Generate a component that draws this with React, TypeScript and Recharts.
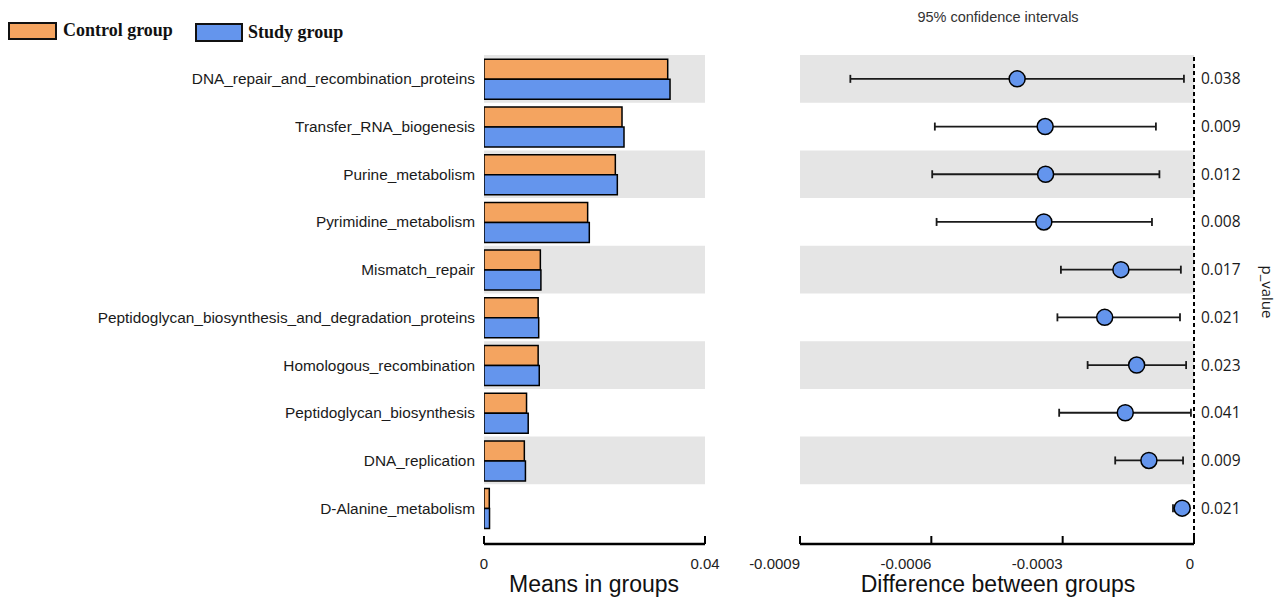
import React from 'react';
import {
  BarChart,
  Bar,
  XAxis,
  YAxis,
  ReferenceArea,
  ComposedChart,
  Scatter,
  ErrorBar,
  ReferenceLine,
} from 'recharts';

const categories = [
  'DNA_repair_and_recombination_proteins',
  'Transfer_RNA_biogenesis',
  'Purine_metabolism',
  'Pyrimidine_metabolism',
  'Mismatch_repair',
  'Peptidoglycan_biosynthesis_and_degradation_proteins',
  'Homologous_recombination',
  'Peptidoglycan_biosynthesis',
  'DNA_replication',
  'D-Alanine_metabolism',
];

const controlMeans = [0.03325, 0.02498, 0.02377, 0.01876, 0.0102, 0.0098, 0.0098, 0.0077, 0.0073, 0.00096];
const studyMeans = [0.03367, 0.02534, 0.02413, 0.01906, 0.0103, 0.0099, 0.01, 0.008, 0.0075, 0.001];

const diffMean = [-0.000404, -0.00034, -0.000339, -0.000343, -0.000167, -0.000204, -0.000131, -0.000157, -0.000103, -0.000027];
const ciLower = [-0.000785, -0.000592, -0.000598, -0.000588, -0.000304, -0.000312, -0.000243, -0.000308, -0.00018, -0.000048];
const ciUpper = [-0.000023, -0.000087, -0.000079, -0.000096, -0.00003, -0.000032, -0.000018, -0.000007, -0.000025, -0.000015];

const pValues = ['0.038', '0.009', '0.012', '0.008', '0.017', '0.021', '0.023', '0.041', '0.009', '0.021'];

const meanTicks = [0, 0.04];
const diffTicks = [-0.0009, -0.0006, -0.0003, 0];

const barData = categories.map((name, i) => ({
  name,
  control: controlMeans[i],
  study: studyMeans[i],
}));

const diffData = categories.map((name, i) => ({
  name,
  mean: diffMean[i],
  err: [diffMean[i] - ciLower[i], ciUpper[i] - diffMean[i]],
}));

const pMap: Record<string, string> = {};
categories.forEach((c, i) => {
  pMap[c] = pValues[i];
});

const shaded = categories.filter((_, i) => i % 2 === 0);

const SANS = '"Liberation Sans", Arial, sans-serif';
const OPEN = '"Open Sans", "Liberation Sans", sans-serif';
const SERIF = '"Liberation Serif", "Times New Roman", serif';

const makeXTick = (anchor: 'middle' | 'end') => (props: any) => {
  const { x, y, payload } = props;
  return (
    <g>
      <line x1={x} y1={y} x2={x} y2={y - 8} stroke="#000" strokeWidth={2} />
      <text x={x} y={y + 25} textAnchor={anchor} fontSize={15} fontFamily={SANS} fill="#222">
        {String(payload.value)}
      </text>
    </g>
  );
};

const DotShape = (props: any) => {
  const { cx, cy } = props;
  if (cx == null || cy == null) return null;
  return <circle cx={cx} cy={cy} r={8} fill="#6495ED" stroke="#000" strokeWidth={1.5} />;
};

export default function App() {
  return (
    <div
      style={{
        position: 'absolute',
        left: 0,
        top: 0,
        width: 1286,
        height: 599,
        background: '#fff',
        overflow: 'hidden',
      }}
    >
      <div style={{ position: 'absolute', left: 0, top: 0 }}>
        <BarChart
          width={720}
          height={599}
          data={barData}
          layout="vertical"
          margin={{ top: 55, right: 15, bottom: 0, left: 0 }}
          barCategoryGap="9%"
          barGap={0}
        >
          {shaded.map((n) => (
            <ReferenceArea key={n} y1={n} y2={n} fill="#e5e5e5" fillOpacity={1} stroke="none" />
          ))}
          <XAxis
            type="number"
            domain={[0, 0.04]}
            ticks={meanTicks}
            interval={0}
            allowDataOverflow
            height={55}
            tickLine={false}
            tickSize={0}
            tickMargin={0}
            axisLine={{ stroke: '#000', strokeWidth: 2.5 }}
            tick={makeXTick('middle')}
          />
          <YAxis
            type="category"
            dataKey="name"
            width={484}
            interval={0}
            axisLine={false}
            tickLine={false}
            tickSize={0}
            tickMargin={9}
            padding={{ top: 0, bottom: 12 }}
            tick={{ fontSize: 15.4, fill: '#1a1a1a', fontFamily: SANS }}
          />
          <Bar dataKey="control" fill="#F4A460" stroke="#000" strokeWidth={1.5} isAnimationActive={false} />
          <Bar dataKey="study" fill="#6495ED" stroke="#000" strokeWidth={1.5} isAnimationActive={false} />
        </BarChart>
      </div>

      <div style={{ position: 'absolute', left: 720, top: 0 }}>
        <ComposedChart
          width={566}
          height={599}
          data={diffData}
          layout="vertical"
          margin={{ top: 55, right: 0, bottom: 0, left: 80 }}
        >
          {shaded.map((n) => (
            <ReferenceArea key={n} y1={n} y2={n} fill="#e5e5e5" fillOpacity={1} stroke="none" />
          ))}
          <XAxis
            type="number"
            dataKey="mean"
            domain={[-0.0009, 0]}
            ticks={diffTicks}
            interval={0}
            allowDataOverflow
            height={55}
            tickLine={false}
            tickSize={0}
            tickMargin={0}
            axisLine={{ stroke: '#000', strokeWidth: 2.5 }}
            tick={makeXTick('end')}
          />
          <YAxis
            type="category"
            scale="band"
            dataKey="name"
            orientation="right"
            width={92}
            interval={0}
            axisLine={false}
            tickLine={false}
            tickSize={0}
            tickMargin={7}
            padding={{ top: 0, bottom: 12 }}
            tickFormatter={(v: string) => pMap[v]}
            tick={{ fontSize: 15.5, fill: '#1a1a1a', fontFamily: OPEN }}
          />
          <ReferenceLine x={0} stroke="#000" strokeWidth={2} strokeDasharray="4 3" />
          <Scatter dataKey="mean" isAnimationActive={false} shape={DotShape}>
            <ErrorBar dataKey="err" direction="x" width={4} stroke="#1a1a1a" strokeWidth={1.8} />
          </Scatter>
        </ComposedChart>
      </div>

      <svg
        width={1286}
        height={599}
        style={{ position: 'absolute', left: 0, top: 0, pointerEvents: 'none' }}
      >
        <rect x={9} y={23} width={47} height={16} fill="#F4A460" stroke="#111" strokeWidth={2} />
        <text x={63} y={36} fontFamily={SERIF} fontWeight="bold" fontSize={18} fill="#111">
          Control group
        </text>
        <rect x={196} y={24} width={46} height={17} fill="#6495ED" stroke="#111" strokeWidth={2} />
        <text x={248} y={38} fontFamily={SERIF} fontWeight="bold" fontSize={18} fill="#111">
          Study group
        </text>
        <text x={998} y={22} textAnchor="middle" fontFamily={SANS} fontSize={14.5} fill="#333">
          95% confidence intervals
        </text>
        <text x={594} y={592} textAnchor="middle" fontFamily={SANS} fontSize={23} fill="#111">
          Means in groups
        </text>
        <text x={998} y={592} textAnchor="middle" fontFamily={SANS} fontSize={23} fill="#111">
          Difference between groups
        </text>
        <text
          x={1268}
          y={292}
          textAnchor="middle"
          dominantBaseline="central"
          fontFamily={OPEN}
          fontSize={15}
          fill="#1a1a1a"
          transform="rotate(90 1268 292)"
        >
          p_value
        </text>
      </svg>
    </div>
  );
}
